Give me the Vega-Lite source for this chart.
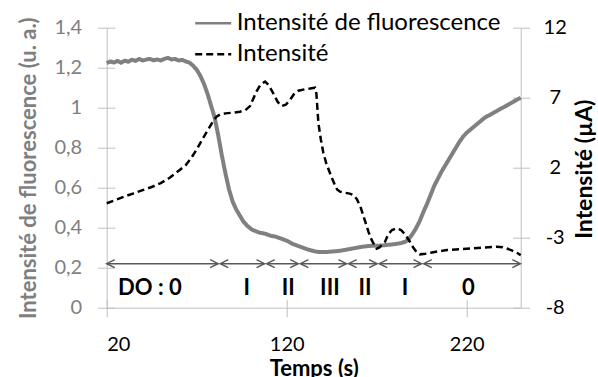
{
  "$schema": "https://vega.github.io/schema/vega-lite/v6.json",
  "width": 414,
  "height": 280,
  "autosize": {"type": "none"},
  "padding": {"left": 106.7, "top": 27.7, "right": 77.3, "bottom": 69.3},
  "background": "white",
  "config": {"view": {"stroke": null}, "font": "Lato", "axis": {"grid": false}},
  "datasets": {
    "fluo": [
      {"t": 20, "v": 1.223}, {"t": 22, "v": 1.231}, {"t": 24, "v": 1.226}, {"t": 26, "v": 1.234}, {"t": 28, "v": 1.225},
      {"t": 30, "v": 1.235}, {"t": 32, "v": 1.23}, {"t": 34, "v": 1.24}, {"t": 36, "v": 1.234}, {"t": 38, "v": 1.244},
      {"t": 40, "v": 1.236}, {"t": 42, "v": 1.241}, {"t": 44, "v": 1.244}, {"t": 46, "v": 1.237}, {"t": 48, "v": 1.241},
      {"t": 50, "v": 1.236}, {"t": 52, "v": 1.244}, {"t": 54, "v": 1.249}, {"t": 56, "v": 1.241}, {"t": 58, "v": 1.244},
      {"t": 60, "v": 1.236}, {"t": 62, "v": 1.239}, {"t": 64, "v": 1.231}, {"t": 66, "v": 1.225}, {"t": 68, "v": 1.21},
      {"t": 70, "v": 1.19}, {"t": 72, "v": 1.16}, {"t": 74, "v": 1.12}, {"t": 76, "v": 1.07}, {"t": 78, "v": 1.01},
      {"t": 80, "v": 0.95}, {"t": 82, "v": 0.86}, {"t": 84, "v": 0.76}, {"t": 86, "v": 0.67}, {"t": 88, "v": 0.59},
      {"t": 90, "v": 0.53}, {"t": 92, "v": 0.49}, {"t": 94, "v": 0.46}, {"t": 96, "v": 0.43}, {"t": 98, "v": 0.41},
      {"t": 100, "v": 0.395}, {"t": 102, "v": 0.385}, {"t": 105, "v": 0.375}, {"t": 108, "v": 0.37}, {"t": 111, "v": 0.36},
      {"t": 114, "v": 0.355}, {"t": 117, "v": 0.345}, {"t": 120, "v": 0.335}, {"t": 123, "v": 0.32}, {"t": 126, "v": 0.31},
      {"t": 129, "v": 0.3}, {"t": 132, "v": 0.29}, {"t": 135, "v": 0.283}, {"t": 138, "v": 0.278}, {"t": 141, "v": 0.278},
      {"t": 144, "v": 0.28}, {"t": 147, "v": 0.282}, {"t": 150, "v": 0.285}, {"t": 153, "v": 0.29}, {"t": 156, "v": 0.295},
      {"t": 159, "v": 0.3}, {"t": 162, "v": 0.305}, {"t": 165, "v": 0.308}, {"t": 168, "v": 0.31}, {"t": 171, "v": 0.31},
      {"t": 174, "v": 0.312}, {"t": 177, "v": 0.315}, {"t": 180, "v": 0.318}, {"t": 183, "v": 0.322}, {"t": 186, "v": 0.33},
      {"t": 188, "v": 0.345}, {"t": 190, "v": 0.37}, {"t": 192, "v": 0.4}, {"t": 194, "v": 0.435}, {"t": 196, "v": 0.48},
      {"t": 198, "v": 0.52}, {"t": 200, "v": 0.565}, {"t": 202, "v": 0.61}, {"t": 204, "v": 0.645}, {"t": 206, "v": 0.68},
      {"t": 208, "v": 0.71}, {"t": 210, "v": 0.74}, {"t": 212, "v": 0.77}, {"t": 214, "v": 0.8}, {"t": 216, "v": 0.83},
      {"t": 218, "v": 0.855}, {"t": 220, "v": 0.875}, {"t": 222, "v": 0.89}, {"t": 224, "v": 0.905}, {"t": 226, "v": 0.92},
      {"t": 228, "v": 0.935}, {"t": 230, "v": 0.95}, {"t": 232, "v": 0.96}, {"t": 234, "v": 0.97}, {"t": 236, "v": 0.98},
      {"t": 238, "v": 0.99}, {"t": 240, "v": 1.0}, {"t": 242, "v": 1.01}, {"t": 244, "v": 1.02}, {"t": 246, "v": 1.03},
      {"t": 248, "v": 1.04}, {"t": 250, "v": 1.05}
    ],
    "cur": [
      {"t": 20, "r": -0.54}, {"t": 25, "r": -0.3}, {"t": 30, "r": -0.05}, {"t": 35, "r": 0.17}, {"t": 40, "r": 0.4},
      {"t": 45, "r": 0.62}, {"t": 50, "r": 0.9}, {"t": 55, "r": 1.28}, {"t": 60, "r": 1.78}, {"t": 64, "r": 2.2},
      {"t": 67, "r": 2.7}, {"t": 70, "r": 3.3}, {"t": 73, "r": 4.0}, {"t": 76, "r": 4.65}, {"t": 79, "r": 5.3},
      {"t": 81, "r": 5.65}, {"t": 83, "r": 5.8}, {"t": 86, "r": 5.88}, {"t": 90, "r": 5.93}, {"t": 94, "r": 6.0},
      {"t": 97, "r": 6.1}, {"t": 99.6, "r": 6.4}, {"t": 101.5, "r": 6.95}, {"t": 103, "r": 7.4}, {"t": 105.5, "r": 7.95},
      {"t": 108, "r": 8.15}, {"t": 110, "r": 7.9}, {"t": 112.6, "r": 7.3}, {"t": 115, "r": 6.7}, {"t": 117.2, "r": 6.4},
      {"t": 119.5, "r": 6.5}, {"t": 121.8, "r": 6.84}, {"t": 124, "r": 7.25}, {"t": 126.5, "r": 7.5}, {"t": 130, "r": 7.6},
      {"t": 133, "r": 7.65}, {"t": 135.7, "r": 7.71}, {"t": 136.5, "r": 7.3}, {"t": 137.6, "r": 5.2}, {"t": 139, "r": 4.0},
      {"t": 140.3, "r": 3.1}, {"t": 142, "r": 2.3}, {"t": 143.5, "r": 1.8}, {"t": 145, "r": 1.3}, {"t": 146.8, "r": 0.76},
      {"t": 148, "r": 0.45}, {"t": 149.6, "r": 0.29}, {"t": 152, "r": 0.22}, {"t": 155, "r": 0.15}, {"t": 157, "r": 0.05},
      {"t": 159, "r": -0.25}, {"t": 161, "r": -0.8}, {"t": 163.5, "r": -1.8}, {"t": 165.5, "r": -2.6}, {"t": 167.2, "r": -3.16},
      {"t": 169, "r": -3.6}, {"t": 170, "r": -3.78}, {"t": 171.5, "r": -3.7}, {"t": 173, "r": -3.5}, {"t": 174.6, "r": -3.3},
      {"t": 176.4, "r": -2.75}, {"t": 178.5, "r": -2.45}, {"t": 181, "r": -2.33}, {"t": 183.5, "r": -2.45}, {"t": 185.7, "r": -2.75},
      {"t": 188, "r": -3.2}, {"t": 190.3, "r": -3.7}, {"t": 192, "r": -4.0}, {"t": 194, "r": -4.19}, {"t": 197, "r": -4.15},
      {"t": 200, "r": -4.08}, {"t": 204, "r": -3.98}, {"t": 209, "r": -3.88}, {"t": 216, "r": -3.82}, {"t": 224, "r": -3.76},
      {"t": 230, "r": -3.7}, {"t": 236.7, "r": -3.64}, {"t": 240, "r": -3.68}, {"t": 242, "r": -3.76}, {"t": 245, "r": -3.9},
      {"t": 247.5, "r": -4.05}, {"t": 250, "r": -4.24}
    ],
    "seg": [
      {"start": 20, "end": 81.9}, {"start": 83.1, "end": 107.7}, {"start": 108.9, "end": 126.4},
      {"start": 127.6, "end": 153.2}, {"start": 154.4, "end": 170.2}, {"start": 171.4, "end": 194.9},
      {"start": 196.1, "end": 249.8}
    ],
    "lab": [
      {"t": 44, "lab": "DO : 0"}, {"t": 97.8, "lab": "I"}, {"t": 120.9, "lab": "II"}, {"t": 144, "lab": "III"},
      {"t": 163.5, "lab": "II"}, {"t": 185.7, "lab": "I"}, {"t": 220.9, "lab": "0"}
    ]
  },
  "layer": [
    {
      "data": {"name": "fluo"},
      "mark": {"type": "line", "strokeWidth": 4, "strokeJoin": "round"},
      "encoding": {
        "x": {"field": "t", "type": "quantitative", "scale": {"domain": [20, 250], "nice": false, "zero": false},
          "axis": {"orient": "bottom", "values": [20, 120, 220], "domain": false, "offset": -8, "tickSize": 17, "tickColor": "#bfbfbf",
            "labelFontSize": 20, "labelColor": "#000000", "labelPadding": 18, "labelFont": "Lato",
            "title": "Temps (s)", "titleFontSize": 22, "titleFontWeight": "bold", "titleColor": "#000000", "titlePadding": 4, "titleFont": "Lato"}},
        "y": {"field": "v", "type": "quantitative", "scale": {"domain": [0, 1.4], "nice": false},
          "axis": {"orient": "left", "values": [0, 0.2, 0.4, 0.6, 0.8, 1, 1.2, 1.4], "domain": false, "offset": -8, "tickSize": 17, "tickColor": "#bfbfbf",
            "labelFontSize": 20, "labelColor": "#7f7f7f", "labelPadding": 16, "labelFont": "Lato",
            "labelExpr": "replace(format(datum.value, '~g'), '.', ',')",
            "title": "Intensité de fluorescence (u. a.)", "titleFontSize": 22, "titleFontWeight": "bold", "titleColor": "#7f7f7f", "titlePadding": 13, "titleFont": "Lato"}},
        "color": {"datum": "Intensité de fluorescence", "type": "nominal",
          "scale": {"domain": ["Intensité de fluorescence", "Intensité"], "range": ["#808080", "#000000"]},
          "legend": {"orient": "none", "legendX": 90, "legendY": -21, "title": null, "symbolType": "M-1.2,0L1.2,0", "symbolSize": 900,
            "symbolStrokeWidth": 2.5, "labelFontSize": 24, "labelFont": "Lato", "labelColor": "#000000", "labelOffset": 7, "labelLimit": 400, "rowPadding": 2}},
        "strokeDash": {"datum": "Intensité de fluorescence", "type": "nominal",
          "scale": {"domain": ["Intensité de fluorescence", "Intensité"], "range": [[1, 0], [7, 4]]},
          "legend": {"orient": "none", "legendX": 90, "legendY": -21, "title": null, "symbolType": "M-1.2,0L1.2,0", "symbolSize": 900,
            "symbolStrokeWidth": 2.5, "labelFontSize": 24, "labelFont": "Lato", "labelColor": "#000000", "labelOffset": 7, "labelLimit": 400, "rowPadding": 2}}
      }
    },
    {
      "data": {"name": "cur"},
      "mark": {"type": "line", "strokeWidth": 2.5},
      "encoding": {
        "x": {"field": "t", "type": "quantitative", "axis": null},
        "y": {"field": "r", "type": "quantitative", "scale": {"domain": [-8, 12], "nice": false, "zero": false},
          "axis": {"orient": "right", "values": [-8, -3, 2, 7, 12], "domain": false, "offset": -8, "tickSize": 17, "tickColor": "#bfbfbf",
            "labelFontSize": 20, "labelColor": "#000000", "labelPadding": 25, "labelAlign": "center", "labelFont": "Lato",
            "labelExpr": "'' + datum.value",
            "title": "Intensité (µA)", "titleAngle": 270, "titleX": 79, "titleY": 141, "titleAlign": "center", "titleBaseline": "alphabetic",
            "titleFontSize": 23, "titleFontWeight": "bold", "titleColor": "#000000", "titleFont": "Lato"}},
        "color": {"datum": "Intensité", "type": "nominal"},
        "strokeDash": {"datum": "Intensité", "type": "nominal"}
      }
    },
    {
      "data": {"name": "seg"},
      "mark": {"type": "rule", "color": "#595959", "strokeWidth": 1.5},
      "encoding": {
        "x": {"field": "start", "type": "quantitative",
          "axis": {"orient": "bottom", "domain": true, "domainColor": "#bfbfbf", "ticks": false, "labels": false, "title": null}},
        "x2": {"field": "end"},
        "y": {"datum": 0.22, "type": "quantitative", "scale": {"domain": [0, 1.4], "nice": false},
          "axis": {"orient": "left", "domain": true, "domainColor": "#bfbfbf", "ticks": false, "labels": false, "title": null}}
      }
    },
    {
      "data": {"name": "seg"},
      "mark": {"type": "point", "shape": "M-2,-1L0,0L-2,1", "filled": false, "size": 64, "color": "#595959", "strokeWidth": 1.5, "opacity": 1},
      "encoding": {
        "x": {"field": "end", "type": "quantitative", "axis": null},
        "y": {"datum": 0.22, "type": "quantitative", "scale": {"domain": [0, 1.4], "nice": false},
          "axis": {"orient": "right", "domain": true, "domainColor": "#bfbfbf", "ticks": false, "labels": false, "title": null}}
      }
    },
    {
      "data": {"name": "seg"},
      "mark": {"type": "point", "shape": "M2,-1L0,0L2,1", "filled": false, "size": 64, "color": "#595959", "strokeWidth": 1.5, "opacity": 1},
      "encoding": {
        "x": {"field": "start", "type": "quantitative", "axis": null},
        "y": {"datum": 0.22, "type": "quantitative", "scale": {"domain": [0, 1.4], "nice": false}, "axis": null}
      }
    },
    {
      "data": {"name": "lab"},
      "mark": {"type": "text", "fontSize": 22, "fontWeight": "bold", "font": "Lato", "color": "#000000", "baseline": "middle", "align": "center"},
      "encoding": {
        "x": {"field": "t", "type": "quantitative", "axis": null},
        "y": {"datum": 0.1, "type": "quantitative", "scale": {"domain": [0, 1.4], "nice": false}, "axis": null},
        "text": {"field": "lab"}
      }
    }
  ],
  "resolve": {"scale": {"y": "independent"}, "axis": {"x": "independent", "y": "independent"}}
}
